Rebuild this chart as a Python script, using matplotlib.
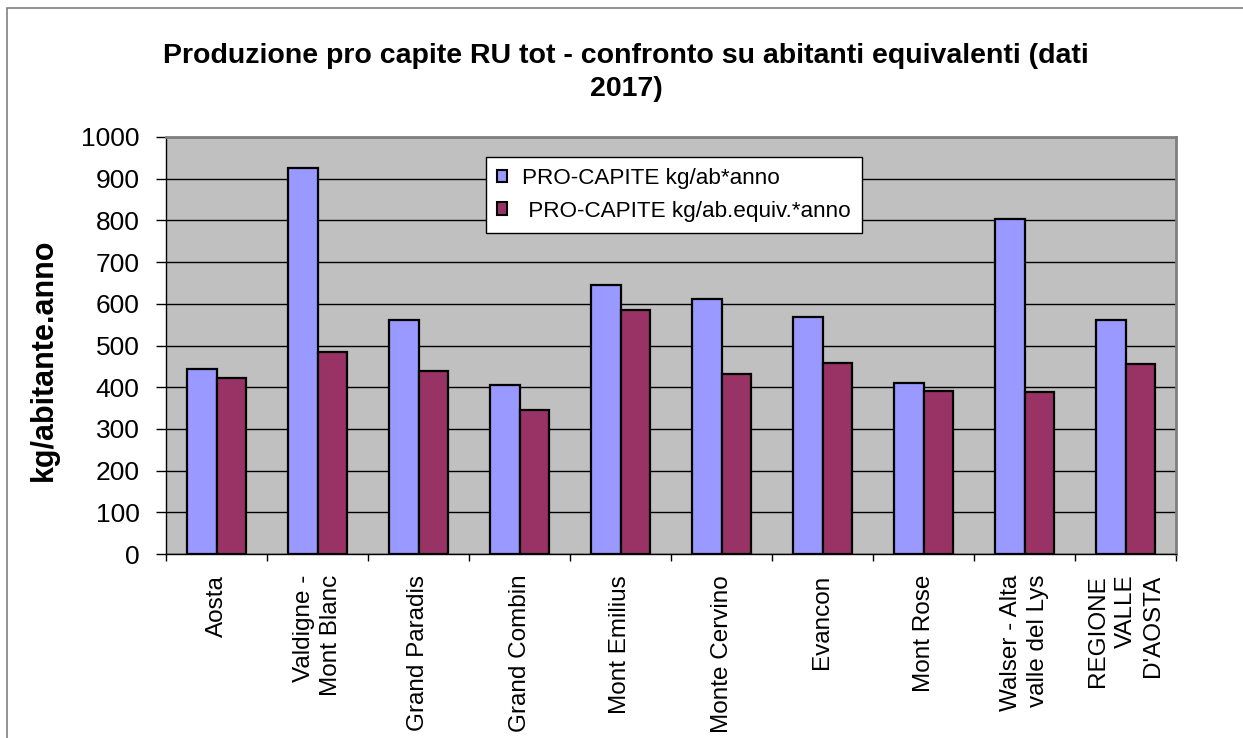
import numpy as np
import matplotlib
matplotlib.use("Agg")
import matplotlib.pyplot as plt
from matplotlib.patches import Rectangle

plt.rcParams['font.family'] = ['Liberation Sans', 'DejaVu Sans']

categories = ["Aosta", "Valdigne -\nMont Blanc", "Grand Paradis", "Grand Combin",
              "Mont Emilius", "Monte Cervino", "Evancon", "Mont Rose",
              "Walser - Alta\nvalle del Lys", "REGIONE\nVALLE\nD'AOSTA"]
pro_capite = [443, 925, 560, 405, 644, 612, 568, 409, 804, 562]
pro_capite_equiv = [423, 484, 440, 345, 584, 432, 458, 390, 388, 456]
series_names = ["PRO-CAPITE kg/ab*anno", " PRO-CAPITE kg/ab.equiv.*anno"]

W, H = 1243, 738
fig = plt.figure(figsize=(W / 100, H / 100), dpi=100)
fig.patch.set_facecolor('white')
# outer chart border (only left and top show)
fig.add_artist(Rectangle((7 / W, -0.1), 1.2, 1.1 - 8 / H, transform=fig.transFigure,
                         fill=False, edgecolor='#808080', linewidth=1.2))

ax = fig.add_axes([166 / W, 1 - 554 / H, 1010 / W, 417 / H])
ax.set_facecolor('#C0C0C0')

x = np.arange(len(categories))
w = 0.29
ax.bar(x - w / 2, pro_capite, w, color='#9999FF', edgecolor='black', linewidth=1.6,
       label=series_names[0], zorder=3)
ax.bar(x + w / 2, pro_capite_equiv, w, color='#993366', edgecolor='black', linewidth=1.6,
       label=series_names[1], zorder=3)

ax.set_xlim(-0.5, len(categories) - 0.5)
ax.set_ylim(0, 1000)
ax.set_yticks(np.arange(0, 1001, 100))
ax.yaxis.grid(True, color='black', linewidth=1)
ax.set_axisbelow(True)

# ticks between categories, labels in the middle
ax.set_xticks(np.arange(-0.5, len(categories), 1))
ax.set_xticklabels([])
ax.set_xticks(x, minor=True)
ax.set_xticklabels(categories, minor=True, rotation=90, va='top', ha='center',
                   multialignment='right', fontsize=17.5, linespacing=1.35)
ax.tick_params(axis='x', which='major', length=5, width=1, color='black', direction='out')
ax.tick_params(axis='x', which='minor', length=0, pad=15)
ax.tick_params(axis='y', length=7, width=1, pad=12, labelsize=19)

for s in ax.spines.values():
    s.set_edgecolor('#808080')
    s.set_linewidth(2)
ax.spines['left'].set_edgecolor('black')
ax.spines['left'].set_linewidth(1)
ax.spines['bottom'].set_edgecolor('black')
ax.spines['bottom'].set_linewidth(1)

fig.text(43.5 / W, 1 - 360 / H, "kg/abitante.anno", rotation=90, ha='center', va='center',
         fontsize=22, fontweight='bold')

fig.text(626 / W, 1 - 63 / H, "Produzione pro capite RU tot - confronto su abitanti equivalenti (dati",
         ha='center', va='baseline', fontsize=20.5, fontweight='bold')
fig.text(626 / W, 1 - 96 / H, "2017)", ha='center', va='baseline', fontsize=20.5, fontweight='bold')

leg = ax.legend(loc='upper left', bbox_to_anchor=(486 / W, 1 - 157 / H), bbox_transform=fig.transFigure,
                fontsize=16.2, frameon=True, fancybox=False, handlelength=0.45, handleheight=0.45,
                handletextpad=0.65, borderpad=0.5, labelspacing=0.5, borderaxespad=0)
leg.get_frame().set_edgecolor('black')
leg.get_frame().set_linewidth(1)
leg.get_frame().set_facecolor('white')
leg.get_frame().set_alpha(1)
for h in leg.legend_handles:
    h.set_linewidth(1.5)

fig.savefig('out.png', dpi=100, facecolor='white')
